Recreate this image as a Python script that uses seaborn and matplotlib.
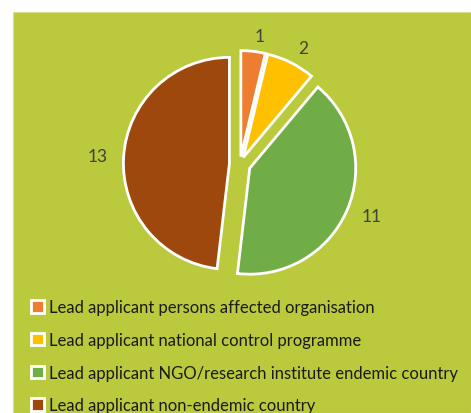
import matplotlib
matplotlib.use("Agg")
import matplotlib.pyplot as plt
import seaborn as sns
from matplotlib.patches import Rectangle

categories = [
    "Lead applicant persons affected organisation",
    "Lead applicant national control programme",
    "Lead applicant NGO/research institute endemic country",
    "Lead applicant non-endemic country",
]
values = [1, 2, 11, 13]
colors = ["#ED7D31", "#FFC000", "#70AD47", "#9E480E"]
explode = [0.07, 0.07, 0.1, 0.1]

sns.set_theme(style="white")
plt.rcParams["font.family"] = ["Lato", "DejaVu Sans"]

W, H = 471, 414
fig = plt.figure(figsize=(W / 100, H / 100), dpi=100)
fig.patch.set_facecolor("white")
bg = "#BBC93D"
fig.patches.append(Rectangle((13 / W, 0), 1 - 13 / W, 1 - 13 / H,
                             transform=fig.transFigure, facecolor=bg,
                             edgecolor="#D5DE8A", linewidth=0.8, zorder=-10))

# pie axes: center at (240,165) px, radius 106 px
cx, cy, r = 240, 165, 106
half = 1.4
ax = fig.add_axes([(cx - half * r) / W, (H - cy - half * r) / H,
                   2 * half * r / W, 2 * half * r / H])
ax.set_zorder(5)
ax.set_facecolor("none")

wedges, texts = ax.pie(values, labels=[str(v) for v in values], colors=colors,
                       explode=explode, startangle=90, counterclock=False,
                       labeldistance=1.15, radius=1,
                       wedgeprops=dict(edgecolor="white", linewidth=2.0),
                       textprops=dict(color="#404040", fontsize=12.5))
ax.set_aspect("auto")
ax.set_xlim(-half, half)
ax.set_ylim(-half, half)
ax.axis("off")

leg = fig.legend(wedges, categories, loc="upper left",
                 bbox_to_anchor=(23 / W, 1 - 292 / H), frameon=False,
                 fontsize=12, handlelength=0.75, handleheight=0.75,
                 handletextpad=0.3, labelspacing=1.0, borderpad=0,
                 labelcolor="#1a1a1a")

fig.savefig("out.png", dpi=100, facecolor=fig.get_facecolor())
